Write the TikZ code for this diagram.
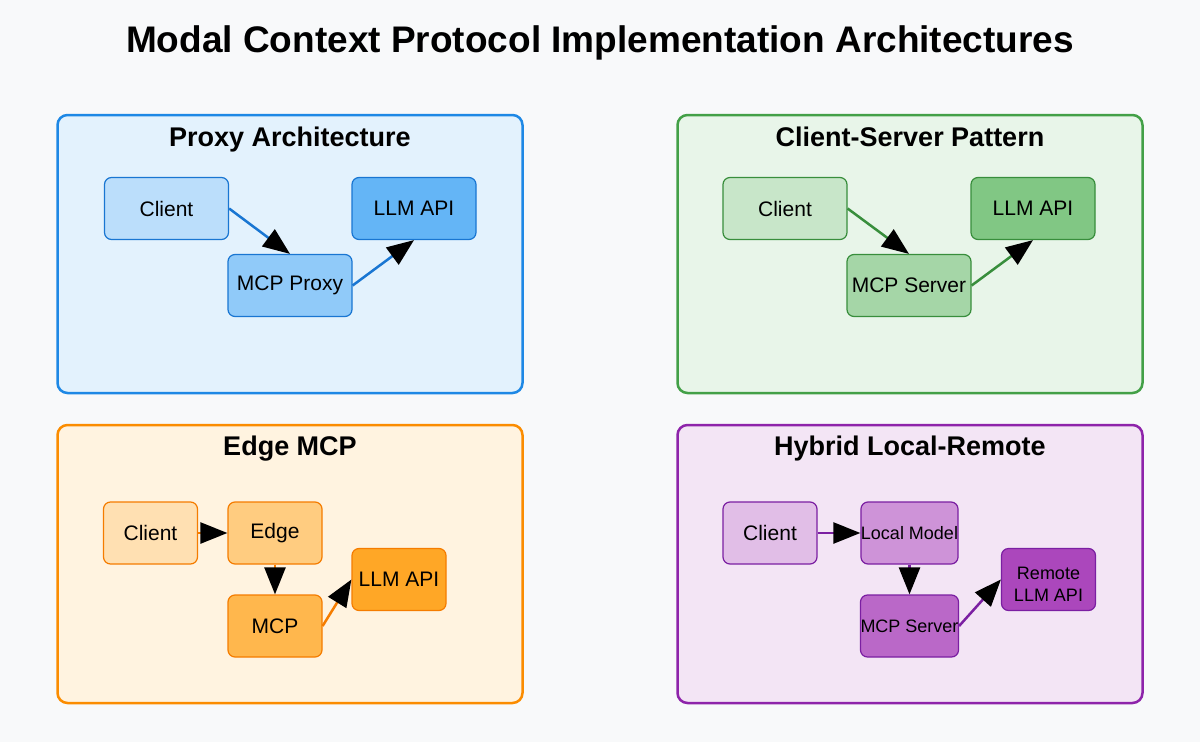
\documentclass[tikz,border=0pt]{standalone}
\usepackage{fontspec}
\setmainfont{Liberation Sans}
\usetikzlibrary{arrows.meta}
\definecolor{bg}{HTML}{F8F9FA}
\definecolor{bPanel}{HTML}{E3F2FD}\definecolor{bLine}{HTML}{1E88E5}\definecolor{bDark}{HTML}{1976D2}
\definecolor{bA}{HTML}{BBDEFB}\definecolor{bB}{HTML}{90CAF9}\definecolor{bC}{HTML}{64B5F6}
\definecolor{gPanel}{HTML}{E8F5E9}\definecolor{gLine}{HTML}{43A047}\definecolor{gDark}{HTML}{388E3C}
\definecolor{gA}{HTML}{C8E6C9}\definecolor{gB}{HTML}{A5D6A7}\definecolor{gC}{HTML}{81C784}
\definecolor{oPanel}{HTML}{FFF3E0}\definecolor{oLine}{HTML}{FB8C00}\definecolor{oDark}{HTML}{F57C00}
\definecolor{oA}{HTML}{FFE0B2}\definecolor{oB}{HTML}{FFCC80}\definecolor{oC}{HTML}{FFB74D}\definecolor{oD}{HTML}{FFA726}
\definecolor{pPanel}{HTML}{F3E5F5}\definecolor{pLine}{HTML}{8E24AA}\definecolor{pDark}{HTML}{7B1FA2}
\definecolor{pA}{HTML}{E1BEE7}\definecolor{pB}{HTML}{CE93D8}\definecolor{pC}{HTML}{BA68C8}\definecolor{pD}{HTML}{AB47BC}
\begin{document}
\begin{tikzpicture}[x=1pt,y=-1pt,
  panel/.style={draw, line width=2.5pt, rounded corners=10pt, minimum width=465pt, minimum height=278pt, inner sep=0pt},
  ptitle/.style={anchor=base, font=\fontsize{27}{32}\selectfont\bfseries},
  box/.style={draw, line width=1.2pt, rounded corners=7pt, inner sep=0pt, minimum height=62pt, font=\fontsize{21}{25}\selectfont},
  wide/.style={box, minimum width=124pt},
  narrow/.style={box, minimum width=94pt},
  small/.style={font=\fontsize{18}{22}\selectfont},
  conn/.style={line width=2.5pt, -{Triangle[length=27pt,width=21pt,color=black,fill=black]}}
]
\useasboundingbox[fill=bg] (0,0) rectangle (1200,742);
\node[anchor=base, font=\fontsize{37}{44}\selectfont\bfseries] (title) at (600,52) {Modal Context Protocol Implementation Architectures};

% Proxy
\node[panel, fill=bPanel, draw=bLine] (p1) at (290,254) {};
\node[ptitle] (t1) at (290,146) {Proxy Architecture};
\node[wide, fill=bA, draw=bDark] (c1) at (166.5,208.5) {Client};
\node[wide, fill=bC, draw=bDark] (l1) at (414,208.5) {LLM API};
\node[wide, fill=bB, draw=bDark] (m1) at (290,285.5) {MCP Proxy};
\draw[conn, bDark] (c1.east) -- (m1.north);
\draw[conn, bDark] (m1.east) -- (l1.south);

% Client-Server
\node[panel, fill=gPanel, draw=gLine] (p2) at (910,254) {};
\node[ptitle] (t2) at (910,146) {Client-Server Pattern};
\node[wide, fill=gA, draw=gDark] (c2) at (785,208.5) {Client};
\node[wide, fill=gC, draw=gDark] (l2) at (1033,208.5) {LLM API};
\node[wide, fill=gB, draw=gDark] (m2) at (909,285.5) {MCP Server};
\draw[conn, gDark] (c2.east) -- (m2.north);
\draw[conn, gDark] (m2.east) -- (l2.south);

% Edge
\node[panel, fill=oPanel, draw=oLine] (p3) at (290,564) {};
\node[ptitle] (t3) at (290,455) {Edge MCP};
\node[narrow, fill=oA, draw=oDark] (c3) at (150.5,533) {Client};
\node[narrow, fill=oB, draw=oDark] (e3) at (275,533) {Edge};
\node[narrow, fill=oC, draw=oDark] (m3) at (275,626) {MCP};
\node[narrow, fill=oD, draw=oDark] (l3) at (399,579.5) {LLM API};
\draw[conn, oDark] (c3.east) -- (e3.west);
\draw[conn, oDark] (e3.south) -- (m3.north);
\draw[conn, oDark] (m3.east) -- (l3.west);

% Hybrid
\node[panel, fill=pPanel, draw=pLine] (p4) at (910,564) {};
\node[ptitle] (t4) at (910,455) {Hybrid Local-Remote};
\node[narrow, fill=pA, draw=pDark] (c4) at (770,533) {Client};
\node[narrow, small, fill=pB, draw=pDark] (lm4) at (909.5,533) {Local Model};
\node[narrow, small, fill=pC, draw=pDark] (m4) at (909.5,626) {MCP Server};
\node[narrow, fill=pD, draw=pDark,
  label={[small, align=center, yshift=-5pt]center:Remote\\LLM API}] (r4) at (1048.5,579.5) {};
\draw[conn, pDark] (c4.east) -- (lm4.west);
\draw[conn, pDark] (lm4.south) -- (m4.north);
\draw[conn, pDark] (m4.east) -- (r4.west);
\end{tikzpicture}
\end{document}
